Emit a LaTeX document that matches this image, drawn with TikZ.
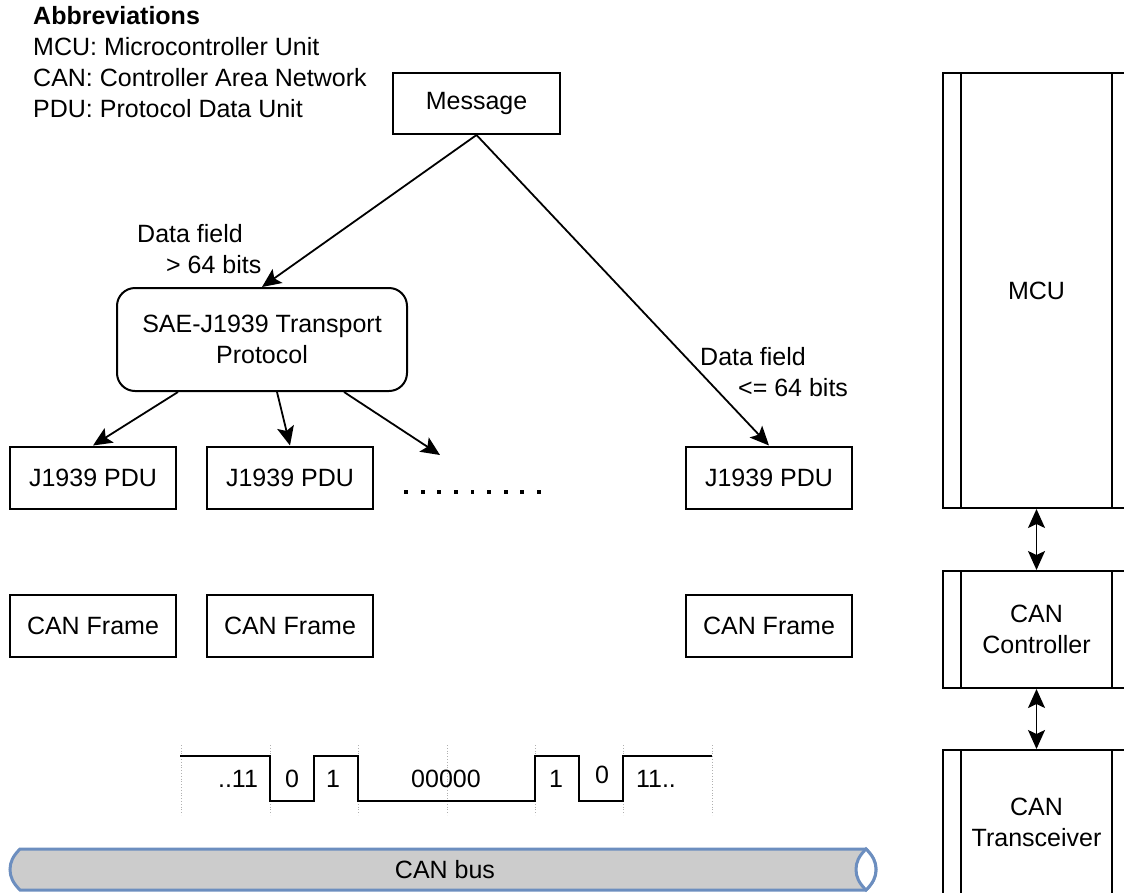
\documentclass[tikz,border=0pt]{standalone}
\usepackage{fontspec}
\setmainfont{Liberation Sans}
\usetikzlibrary{arrows.meta,calc}
\definecolor{busfill}{HTML}{CCCCCC}
\definecolor{busline}{HTML}{6C8EBF}
\definecolor{gridgray}{HTML}{B0B0B0}
\begin{document}
\begin{tikzpicture}[x=1pt,y=-1pt,
  font=\fontsize{25}{31}\selectfont,
  headtip/.tip={Stealth[length=19pt,width=17pt,inset=4pt]},
  box/.style={draw, line width=2pt, minimum width=166pt, minimum height=62pt, inner sep=0pt, align=center},
  tpbox/.style={box, rounded corners=18pt, minimum width=290pt, minimum height=103pt},
  procbox/.style={draw, line width=2pt, minimum width=187pt, inner sep=0pt, align=center},
  lbl/.style={inner sep=0pt, align=left},
  conn/.style={line width=1.8pt, -headtip},
  biconn/.style={line width=1.8pt, headtip-headtip},
  wave/.style={line width=2pt},
  gridline/.style={gridgray, line width=0.8pt, dotted},
  bus/.style={fill=busfill, draw=busline, line width=3pt}]

\useasboundingbox (0,0) rectangle (1124,892);
\clip (0,0) rectangle (1124,892);

% legend
\node[lbl, anchor=west] (abbr) at (33,62.5)
  {\textbf{Abbreviations}\\MCU: Microcontroller Unit\\CAN: Controller Area Network\\PDU: Protocol Data Unit};

% segmentation tree
\node[box, minimum width=167pt, minimum height=61pt] (msg) at (476.5,103.5) {Message};
\node[tpbox] (tp) at (262,339.5) {SAE-J1939 Transport\\Protocol};
\node[box] (pduA) at (93,477.5) {J1939 PDU};
\node[box] (pduB) at (290,477.5) {J1939 PDU};
\node[box] (pduC) at (769,477.5) {J1939 PDU};
\node[box] (frmA) at (93,625.5) {CAN Frame};
\node[box] (frmB) at (290,625.5) {CAN Frame};
\node[box] (frmC) at (769,625.5) {CAN Frame};
\coordinate (more) at (440,455);

\draw[conn] (msg.south) -- (tp.north);
\draw[conn] (msg.south) -- (pduC.north);
\draw[conn] ($(tp.south)+(-84,0)$) -- (pduA.north);
\draw[conn] ($(tp.south)+(15,0)$) -- (pduB.north);
\draw[conn] ($(tp.south)+(82,0)$) -- (more);

\node[lbl, anchor=west] (lblLong) at (137,249.5) {Data field\\\hspace*{29pt}> 64 bits};
\node[lbl, anchor=west] (lblShort) at (700,372) {Data field\\\hspace*{38pt}<= 64 bits};

% continuation dots
\foreach \i in {0,...,8}
  \fill ({404.2+16.6*\i},490.2) rectangle +(3.8,3.8);

% bit stream on the wire
\foreach \gx in {181,270,358,447,535,623,712}
  \draw[gridline] (\gx,745) -- (\gx,815);
\draw[wave] (180,756) -- (270,756) -- (270,801) -- (314,801) -- (314,756)
  -- (358,756) -- (358,801) -- (535,801) -- (535,756) -- (579,756)
  -- (579,801) -- (623,801) -- (623,756) -- (712,756);
\node (b1) at (238,779) {..11};
\node (b2) at (292,779) {0};
\node (b3) at (333,779) {1};
\node (b4) at (446,779) {00000};
\node (b5) at (556,779) {1};
\node (b6) at (602,775) {0};
\node (b7) at (656,779) {11..};

% bus cylinder
\path[bus] (866,849) -- (20,849)
  .. controls (13,856) and (10,862) .. (10,869.5)
  .. controls (10,877) and (13,883) .. (20,890) -- (866,890)
  .. controls (873,883) and (876,877) .. (876,869.5)
  .. controls (876,862) and (873,856) .. (866,849) -- cycle;
\path[draw=busline, fill=white, line width=3pt] (866,849)
  .. controls (859,856) and (856,862) .. (856,869.5)
  .. controls (856,877) and (859,883) .. (866,890)
  .. controls (873,883) and (876,877) .. (876,869.5)
  .. controls (876,862) and (873,856) .. (866,849) -- cycle;
\node (busname) at (445,869.5) {CAN bus};

% node stack
\node[procbox, minimum height=435pt] (mcu) at (1036.5,290.5) {MCU};
\node[procbox, minimum height=117pt] (ctrl) at (1036.5,629.5) {CAN\\Controller};
\node[procbox, minimum height=144pt] (trx) at (1036.5,822) {CAN\\Transceiver};
\foreach \n in {mcu,ctrl,trx} {
  \draw[line width=2pt] ($(\n.north west)+(19,0)$) -- ($(\n.south west)+(19,0)$);
  \draw[line width=2pt] ($(\n.north east)+(-19,0)$) -- ($(\n.south east)+(-19,0)$);
}
\draw[biconn] (mcu.south) -- (ctrl.north);
\draw[biconn] (ctrl.south) -- (trx.north);
\end{tikzpicture}
\end{document}
